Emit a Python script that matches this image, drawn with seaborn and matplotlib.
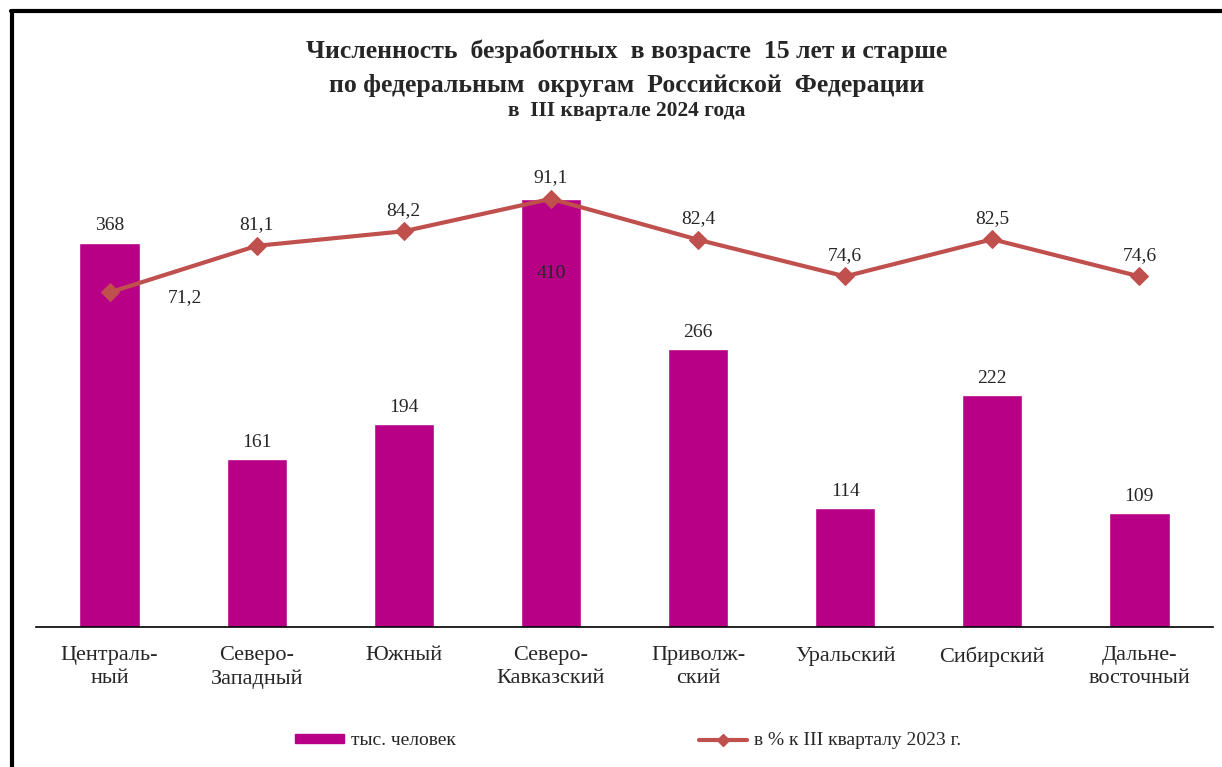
import numpy as np
import pandas as pd
import matplotlib.pyplot as plt
import seaborn as sns
from matplotlib.lines import Line2D
from matplotlib.patches import Patch

districts = ['Централь-\nный', 'Северо-\nЗападный', 'Южный', 'Северо-\nКавказский',
             'Приволж-\nский', 'Уральский', 'Сибирский', 'Дальне-\nвосточный']
unemployed = [368, 161, 194, 410, 266, 114, 222, 109]
pct_prev_year = [71.2, 81.1, 84.2, 91.1, 82.4, 74.6, 82.5, 74.6]

title_line1 = 'Численность  безработных  в возрасте  15 лет и старше'
title_line2 = 'по федеральным  округам  Российской  Федерации'
title_sub = 'в  III квартале 2024 года'
bar_label = 'тыс. человек'
line_label = 'в % к III кварталу 2023 г.'

BAR_COLOR = '#B80087'
LINE_COLOR = '#C0504D'

sns.set_style('white')
plt.rcParams['font.family'] = ['Liberation Serif', 'DejaVu Serif']

df = pd.DataFrame({'district': districts, 'value': unemployed, 'pct': pct_prev_year})

fig = plt.figure(figsize=(12.22, 7.67), dpi=100)
ax = fig.add_axes([0.0295, 0.1825, 0.9631, 0.6128])

sns.barplot(data=df, x='district', y='value', color=BAR_COLOR, width=0.41,
            saturation=1, ax=ax)
ax.set_ylim(0, 450)
ax.set_xlim(-0.5, len(districts) - 0.5)

ax2 = ax.twinx()
sns.lineplot(x=np.arange(len(districts)), y=df['pct'], color=LINE_COLOR, linewidth=3,
             marker='D', markersize=9, markeredgecolor=LINE_COLOR, ax=ax2)
ax2.set_ylim(0, 100)

for a in (ax, ax2):
    for s in ['top', 'right', 'left']:
        a.spines[s].set_visible(False)
    a.set_yticks([])
    a.set_ylabel('')
ax2.spines['bottom'].set_visible(False)
ax.spines['bottom'].set_color('black')
ax.spines['bottom'].set_linewidth(1.2)

# ticks at category boundaries, labels at centres
ax.set_xticks(np.arange(len(districts)))
ax.set_xticklabels(districts, fontsize=16, linespacing=1.25)
ax.set_xticks(np.arange(-0.5, len(districts)), minor=True)
ax.tick_params(axis='x', which='major', length=0, pad=14)
ax.tick_params(axis='x', which='minor', length=7, width=1.2, direction='out', color='black')
ax.set_xlabel('')

# bar value labels
for i, v in enumerate(unemployed):
    if i == 3:
        ax.annotate(str(v), (i, v), xytext=(0, -54), textcoords='offset points',
                    ha='center', va='center', fontsize=14)
    else:
        ax.annotate(str(v), (i, v), xytext=(0, 6), textcoords='offset points',
                    ha='center', va='bottom', fontsize=14)

# line value labels
for i, v in enumerate(pct_prev_year):
    txt = f'{v:.1f}'.replace('.', ',')
    if i == 0:
        ax2.annotate(txt, (i, v), xytext=(54, -4), textcoords='offset points',
                     ha='center', va='center', fontsize=14)
    else:
        ax2.annotate(txt, (i, v), xytext=(0, 15), textcoords='offset points',
                     ha='center', va='center', fontsize=14)

fig.text(0.513, 0.933, title_line1, ha='center', va='center', fontsize=18.5,
         fontweight='bold')
fig.text(0.513, 0.889, title_line2, ha='center', va='center', fontsize=18.5,
         fontweight='bold')
fig.text(0.513, 0.855, title_sub, ha='center', va='center', fontsize=15.5,
         fontweight='bold')

handles = [Patch(facecolor=BAR_COLOR, edgecolor=BAR_COLOR),
           Line2D([0], [0], color=LINE_COLOR, linewidth=3, marker='D', markersize=6)]
fig.legend(handles, [bar_label, line_label], loc='center', bbox_to_anchor=(0.514, 0.034),
           ncol=2, frameon=False, fontsize=14, columnspacing=12.5, handlelength=2.5,
           handleheight=0.35, handletextpad=0.35)

# outer frame: left and top edges only
fig.add_artist(Line2D([0.0098, 0.0098], [0, 0.986], transform=fig.transFigure,
                      color='black', linewidth=3))
fig.add_artist(Line2D([0.0086, 1.0], [0.986, 0.986], transform=fig.transFigure,
                      color='black', linewidth=3))

fig.savefig('out.png', dpi=100)
